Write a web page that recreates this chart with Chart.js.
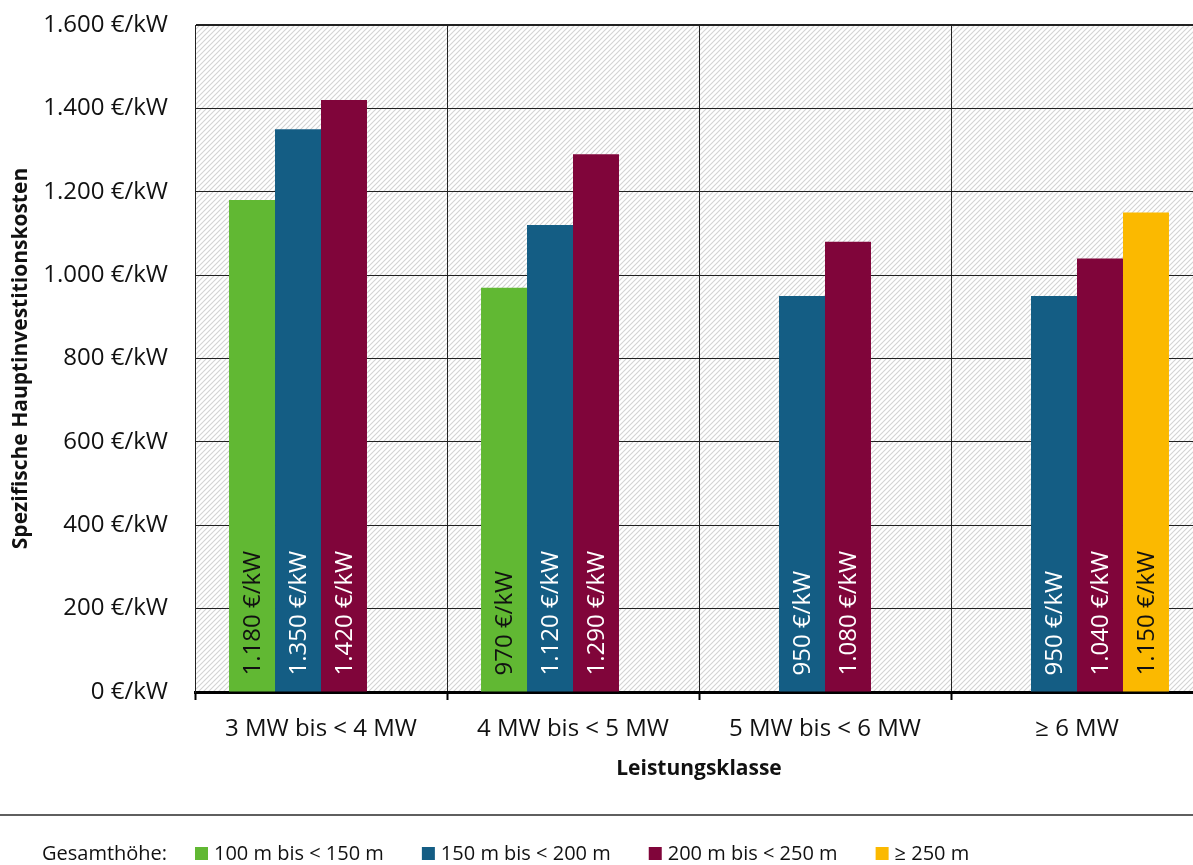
<!DOCTYPE html>
<html lang="de">
<head>
<meta charset="utf-8">
<title>Spezifische Hauptinvestitionskosten nach Leistungsklasse</title>
<script src="https://cdn.jsdelivr.net/npm/chart.js@4.4.1/dist/chart.umd.min.js"></script>
<style>
  html, body { margin: 0; padding: 0; background: #fff; overflow: hidden; }
  #wrap { position: relative; width: 1215px; height: 865px; }
</style>
</head>
<body>
<div id="wrap"><canvas id="chart" width="1215" height="865"></canvas></div>
<script>
// Leistungsklassen (x-axis categories)
const categories = ['3 MW bis < 4 MW', '4 MW bis < 5 MW', '5 MW bis < 6 MW', '≥ 6 MW'];

// Gesamthöhe classes (series names)
const seriesNames = ['100 m bis < 150 m', '150 m bis < 200 m', '200 m bis < 250 m', '≥ 250 m'];

// Spezifische Hauptinvestitionskosten in €/kW per Gesamthöhe class
const h100to150 = [1180, 970, null, null];
const h150to200 = [1350, 1120, 950, 950];
const h200to250 = [1420, 1290, 1080, 1040];
const h250plus  = [null, null, null, 1150];

// y-axis ticks in €/kW
const yTicks = [0, 200, 400, 600, 800, 1000, 1200, 1400, 1600];

const legendPrefix = 'Gesamthöhe:';
const xTitle = 'Leistungsklasse';
const yTitle = 'Spezifische Hauptinvestitionskosten';

// styling
const barColors   = ['#61b833', '#145d84', '#80053a', '#fbb900'];
const labelColors = ['#111111', '#ffffff', '#ffffff', '#111111'];
const FONT = '"Open Sans", "DejaVu Sans", sans-serif';

// German thousands separator: 1180 -> "1.180"
function fmt(v) {
  return String(Math.round(v)).replace(/\B(?=(\d{3})+(?!\d))/g, '.');
}
const unit = ' €/kW';

// diagonal hatch for the plot background
function makeHatch() {
  const s = 5;
  const c = document.createElement('canvas');
  c.width = s; c.height = s;
  const g = c.getContext('2d');
  g.fillStyle = '#ffffff';
  g.fillRect(0, 0, s, s);
  g.strokeStyle = '#d3d3d3';
  g.lineWidth = 1.1;
  g.beginPath();
  g.moveTo(-1, s + 1); g.lineTo(s + 1, -1);
  g.moveTo(-1, 1); g.lineTo(1, -1);
  g.moveTo(s - 1, s + 1); g.lineTo(s + 1, s - 1);
  g.stroke();
  return c;
}

const hatchBackground = {
  id: 'hatchBackground',
  beforeDraw(chart) {
    const { ctx, chartArea: a } = chart;
    ctx.save();
    ctx.fillStyle = ctx.createPattern(makeHatch(), 'repeat');
    ctx.fillRect(a.left, a.top, a.right - a.left, a.bottom - a.top);
    ctx.restore();
  }
};

// vertical value labels inside the bars, starting near the base
const barValueLabels = {
  id: 'barValueLabels',
  afterDatasetsDraw(chart) {
    const ctx = chart.ctx;
    ctx.save();
    ctx.font = '24px ' + FONT;
    ctx.textAlign = 'left';
    ctx.textBaseline = 'middle';
    chart.data.datasets.forEach((ds, di) => {
      const meta = chart.getDatasetMeta(di);
      meta.data.forEach((bar, i) => {
        const v = ds.data[i];
        if (v === null || v === undefined) return;
        ctx.save();
        ctx.translate(bar.x, bar.base - 16);
        ctx.rotate(-Math.PI / 2);
        ctx.fillStyle = labelColors[di];
        ctx.fillText(fmt(v) + unit, 0, 1);
        ctx.restore();
      });
    });
    ctx.restore();
  }
};

// separator line and legend row at the bottom
const bottomLegend = {
  id: 'bottomLegend',
  afterDraw(chart) {
    const ctx = chart.ctx;
    ctx.save();
    ctx.strokeStyle = '#2a2a2a';
    ctx.lineWidth = 1.5;
    ctx.beginPath();
    ctx.moveTo(0, 815);
    ctx.lineTo(chart.width, 815);
    ctx.stroke();

    const y = 854;
    ctx.font = '20px ' + FONT;
    ctx.textBaseline = 'middle';
    ctx.textAlign = 'left';
    ctx.fillStyle = '#111';
    ctx.fillText(legendPrefix, 42, y);

    let x = 195;
    chart.data.datasets.forEach((ds, di) => {
      ctx.fillStyle = ds.backgroundColor;
      ctx.fillRect(x, y - 7, 13, 13);
      ctx.fillStyle = '#111';
      ctx.fillText(ds.label, x + 19, y);
      x += 19 + ctx.measureText(ds.label).width + 38;
    });
    ctx.restore();
  }
};

const seriesData = [h100to150, h150to200, h200to250, h250plus];

new Chart(document.getElementById('chart'), {
  type: 'bar',
  data: {
    labels: categories,
    datasets: seriesNames.map((name, i) => ({
      label: name,
      data: seriesData[i],
      backgroundColor: barColors[i],
      borderWidth: 0,
      categoryPercentage: 0.73,
      barPercentage: 1.0
    }))
  },
  options: {
    responsive: false,
    animation: false,
    devicePixelRatio: 1,
    layout: { padding: { top: 25, right: 12, bottom: 73, left: 0 } },
    plugins: {
      legend: { display: false },
      tooltip: { enabled: false }
    },
    scales: {
      x: {
        offset: true,
        grid: {
          offset: true,
          color: '#222',
          lineWidth: 1,
          drawTicks: true,
          tickLength: 8,
          tickColor: '#000',
          tickWidth: 2
        },
        border: { display: true, color: '#000', width: 3 },
        ticks: {
          color: '#111',
          font: { family: FONT, size: 24 },
          padding: 15,
          maxRotation: 0
        },
        title: {
          display: true,
          text: xTitle,
          color: '#111',
          font: { family: FONT, size: 21, weight: 'bold' },
          padding: { top: 0, bottom: 10 }
        },
        afterFit(scale) { scale.height = 100; scale.paddingLeft = 0; scale.paddingRight = 0; }
      },
      y: {
        min: 0,
        max: 1600,
        afterBuildTicks(scale) { scale.ticks = yTicks.map(v => ({ value: v })); },
        grid: {
          color: '#222',
          lineWidth: ctx => (ctx.tick && ctx.tick.value === 1600 ? 2 : 1),
          drawTicks: false
        },
        border: { display: true, color: '#222', width: 1 },
        ticks: {
          color: '#111',
          font: { family: FONT, size: 24 },
          padding: 27,
          callback: v => fmt(v) + unit
        },
        title: {
          display: true,
          text: yTitle,
          color: '#111',
          font: { family: FONT, size: 21, weight: 'bold' },
          padding: { top: 8, bottom: 0 }
        },
        afterFit(scale) { scale.width = 195; scale.paddingTop = 0; scale.paddingBottom = 0; }
      }
    }
  },
  plugins: [hatchBackground, barValueLabels, bottomLegend]
});
</script>
</body>
</html>
